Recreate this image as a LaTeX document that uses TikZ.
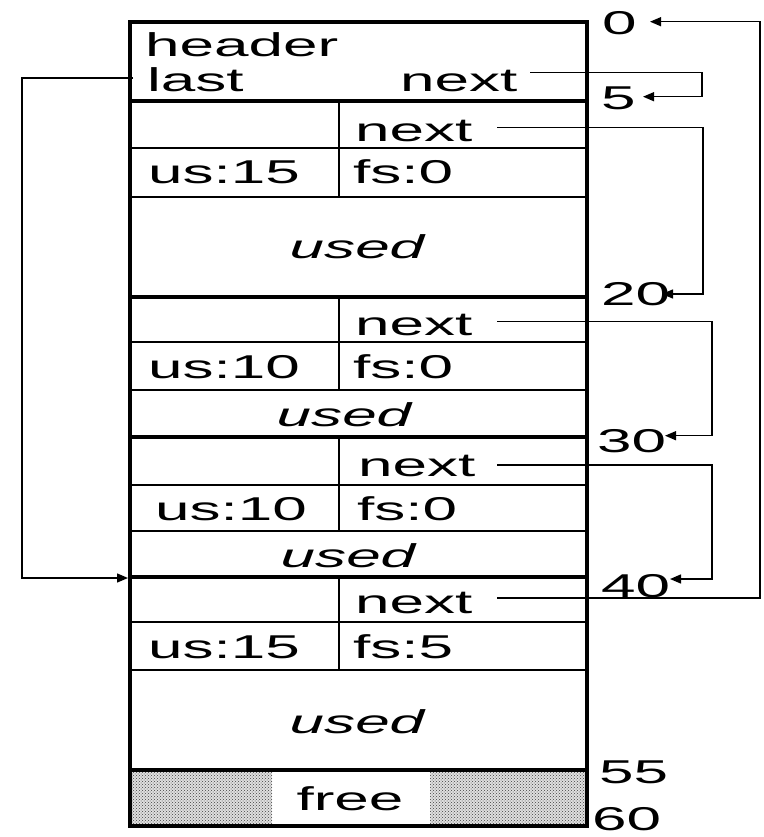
\documentclass[tikz,border=0pt]{standalone}
\usepackage{fontspec}
\setmainfont[FakeStretch=1.88]{Liberation Sans}
\usetikzlibrary{arrows.meta,patterns}
\begin{document}
\begin{tikzpicture}[x=1pt,y=-1pt,
  thickln/.style={line width=3.6pt},
  thinln/.style={line width=1.7pt},
  conn/.style={line width=1.4pt, -{Triangle[length=11pt,width=9pt]}},
  txt/.style={anchor=base west, inner sep=0pt, font=\fontsize{33}{36}\selectfont},
  usedtxt/.style={anchor=base, inner sep=0pt, font=\fontsize{33}{36}\selectfont\itshape},
  lbl/.style={anchor=base west, inner sep=0pt, font=\fontsize{33}{36}\selectfont},
  freefill/.style={pattern=crosshatch dots, pattern color=black!75},
]
\useasboundingbox (0,0) rectangle (763,837);

% free area fill
\fill[gray!25] (130,770) rectangle (272,826);
\fill[gray!25] (430,770) rectangle (587,826);
\fill[freefill] (130,770) rectangle (272,826);
\fill[freefill] (430,770) rectangle (587,826);

% thin lines of blocks
\foreach \t/\a/\b in {101/148/197, 297/342/390, 437/485/531, 577/622/670}{
  \draw[thinln] (130,\a) -- (587,\a);
  \draw[thinln] (130,\b) -- (587,\b);
  \draw[thinln] (339,\t) -- (339,\b);
}
% thick separators
\foreach \y in {101,297,437,577,770}{
  \draw[thickln] (130,\y) -- (587,\y);
}
% outer box
\draw[thickln] (130,22) rectangle (587,826);

% header texts
\node[txt] (header) at (145,56.7) {header};
\node[txt] (last) at (147,91.7) {last};
\node[txt] (hnext) at (400,91.7) {next};

% block 1
\node[txt] (next1) at (355,141.7) {next};
\node[txt] (us1) at (148,183.3) {us:15};
\node[txt] (fs1) at (353,183.3) {fs:0};
\node[usedtxt] (used1) at (357,258) {used};
% block 2
\node[txt] (next2) at (355,335) {next};
\node[txt] (us2) at (148,378) {us:10};
\node[txt] (fs2) at (353,378) {fs:0};
\node[usedtxt] (used2) at (344,426.7) {used};
% block 3
\node[txt] (next3) at (358,476) {next};
\node[txt] (us3) at (155,520) {us:10};
\node[txt] (fs3) at (357,520) {fs:0};
\node[usedtxt] (used3) at (348,567) {used};
% block 4
\node[txt] (next4) at (355,613) {next};
\node[txt] (us4) at (148,658) {us:15};
\node[txt] (fs4) at (353,658) {fs:5};
\node[usedtxt] (used4) at (357,733) {used};
% free
\node[txt, anchor=base] (free) at (350,810) {free};

% offset labels
\node[lbl] (l0) at (602,35) {0};
\node[lbl] (l5) at (601,110) {5};
\node[lbl] (l20) at (601,305) {20};
\node[lbl] (l30) at (597,452) {30};
\node[lbl] (l40) at (601,597) {40};
\node[lbl] (l55) at (599,783) {55};
\node[lbl] (l60) at (592,830) {60};

% connector endpoints
\coordinate (sh) at (530,72.7);
\coordinate (th) at (643,96.7);
\coordinate (s1) at (497,127.7);
\coordinate (t1) at (662,294);
\coordinate (s2) at (497,321.7);
\coordinate (t2) at (665,435.7);
\coordinate (s3) at (497,465);
\coordinate (t3) at (670,579);
\coordinate (s4) at (497,598);
\coordinate (t4) at (650,21.7);
\coordinate (sl) at (133,78);
\coordinate (tl) at (128,578);

% connectors
\draw[conn] (sh) -- ++(172,0) |- (th);
\draw[conn] (s1) -- ++(206,0) |- (t1);
\draw[conn] (s2) -- ++(215,0) |- (t2);
\draw[conn] (s3) -- ++(215,0) |- (t3);
\draw[conn] (s4) -- ++(263,0) |- (t4);
\draw[conn] (sl) -- ++(-111,0) |- (tl);
\end{tikzpicture}
\end{document}
